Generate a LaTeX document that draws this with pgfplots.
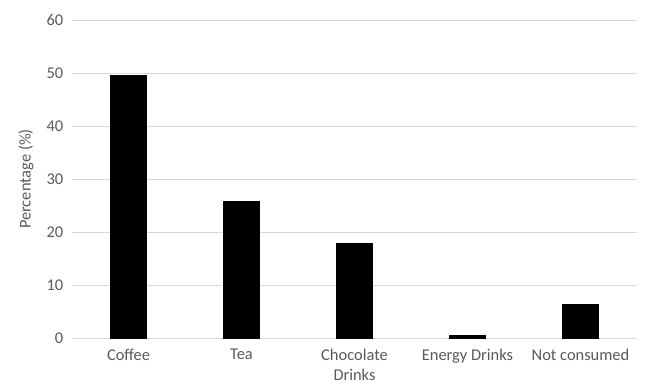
\documentclass[border=0pt]{standalone}
\usepackage{fontspec}
\setmainfont{Carlito}
\usepackage{pgfplots}
\pgfplotsset{compat=1.18}
\definecolor{txt}{HTML}{595959}
\definecolor{grd}{HTML}{D9D9D9}
\begin{document}
\fontsize{16.5}{19}\selectfont
\begin{tikzpicture}
\begin{axis}[
  scale only axis,
  width=565bp, height=318bp,
  xmin=-0.5, xmax=4.5,
  ymin=0, ymax=60,
  ytick={0,10,...,60},
  xtick=data,
  xticklabels={Coffee,Tea,{Chocolate\\Drinks},Energy Drinks,Not consumed},
  xticklabel style={align=center, font=\fontsize{16.5}{20}\selectfont, text=txt, yshift=-5bp},
  yticklabel style={font=\fontsize{16.5}{19}\selectfont, text=txt, xshift=-3bp},
  /pgf/number format/assume math mode=true,
  axis line style={draw=none},
  major tick length=0pt,
  ymajorgrids,
  grid style={grd, line width=0.9bp},
  ylabel={Percentage (\%)},
  ylabel style={font=\fontsize{16.5}{19}\selectfont, text=txt, yshift=2bp},
  ybar, bar width=36bp,
  clip=false,
]
\addplot[fill=black, draw=black] coordinates {(0,49.6) (1,25.8) (2,17.9) (3,0.5) (4,6.4)};
\end{axis}
\path (-72bp,-47bp) rectangle (575bp,338bp);
\end{tikzpicture}
\end{document}
